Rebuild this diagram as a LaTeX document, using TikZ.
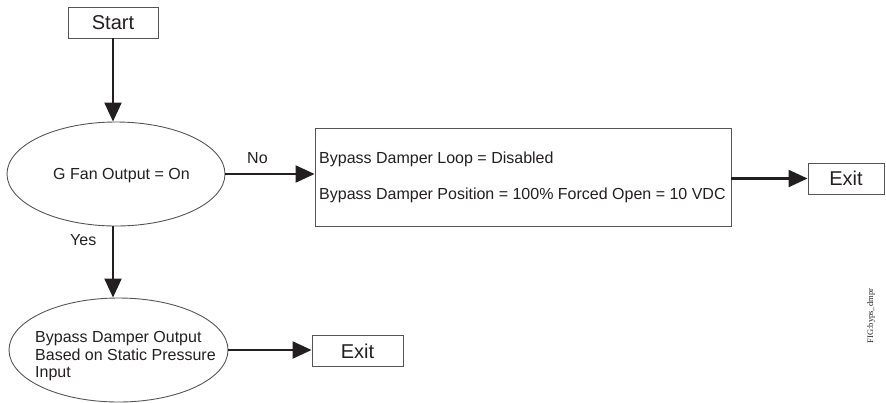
\documentclass[tikz,border=0pt]{standalone}
\usepackage{fontspec}
\setmainfont{Liberation Sans}
\newfontfamily\figfont{Liberation Serif}
\usetikzlibrary{arrows.meta,shapes.geometric}
\definecolor{ink}{HTML}{231F20}
\definecolor{edge}{HTML}{555555}
\tikzset{
  bodyfont/.style={font=\fontsize{16}{17.5}\selectfont, text=ink},
  bigfont/.style={font=\fontsize{20}{22}\selectfont, text=ink},
  plainbox/.style={draw=edge, line width=0.9pt, rectangle, inner sep=0pt},
  ovalbox/.style={draw=edge, line width=0.9pt, ellipse, inner sep=0pt},
  txt/.style={bodyfont, inner sep=0pt, anchor=base west},
  flow/.style={draw=ink, line width=2.2pt, -{Triangle[length=19pt,width=17pt]}},
}
\begin{document}
\begin{tikzpicture}[x=1pt, y=-1pt]
\useasboundingbox (0,0) rectangle (886,402);
% nodes
\node[plainbox, bigfont, minimum width=90pt, minimum height=31pt] (start) at (113,22.5) {Start};
\node[ovalbox, minimum width=218pt, minimum height=104pt] (dec) at (116,174) {};
\node[txt] (dectext) at (53,179) {G Fan Output = On};
\node[plainbox, minimum width=416pt, minimum height=98pt] (box) at (523,177) {};
\node[txt] (boxl1) at (319,163) {Bypass Damper Loop = Disabled};
\node[txt] (boxl2) at (319,199) {Bypass Damper Position = 100\% Forced Open = 10 VDC};
\node[plainbox, bigfont, minimum width=76pt, minimum height=31pt] (exitone) at (846,178.5) {Exit};
\node[ovalbox, minimum width=219pt, minimum height=104pt] (ell) at (118.5,350) {};
\node[txt] (ella) at (35,342) {Bypass Damper Output};
\node[txt] (ellb) at (35,360) {Based on Static Pressure};
\node[txt] (ellc) at (35,377) {Input};
\node[plainbox, bigfont, minimum width=91pt, minimum height=31pt] (exittwo) at (357.5,351) {Exit};
\node[txt] (nolab) at (247,163) {No};
\node[txt] (yeslab) at (70,245) {Yes};
\node[rotate=90, inner sep=0pt, font=\figfont\fontsize{8.5}{10}\selectfont, text=ink] (figlab) at (871,316) {FIG:byps\_dmpr};
% connectors
\draw[flow] (start.south) -- (start.south |- dec.north);
\draw[flow] (dec.east) -- (dec.east -| box.west);
\draw[flow] (box.east |- exitone.west) -- (exitone.west);
\draw[flow] (dec.south -| start.south) -- (start.south |- ell.north);
\draw[flow] (ell.east) -- (ell.east -| exittwo.west);
\end{tikzpicture}
\end{document}
